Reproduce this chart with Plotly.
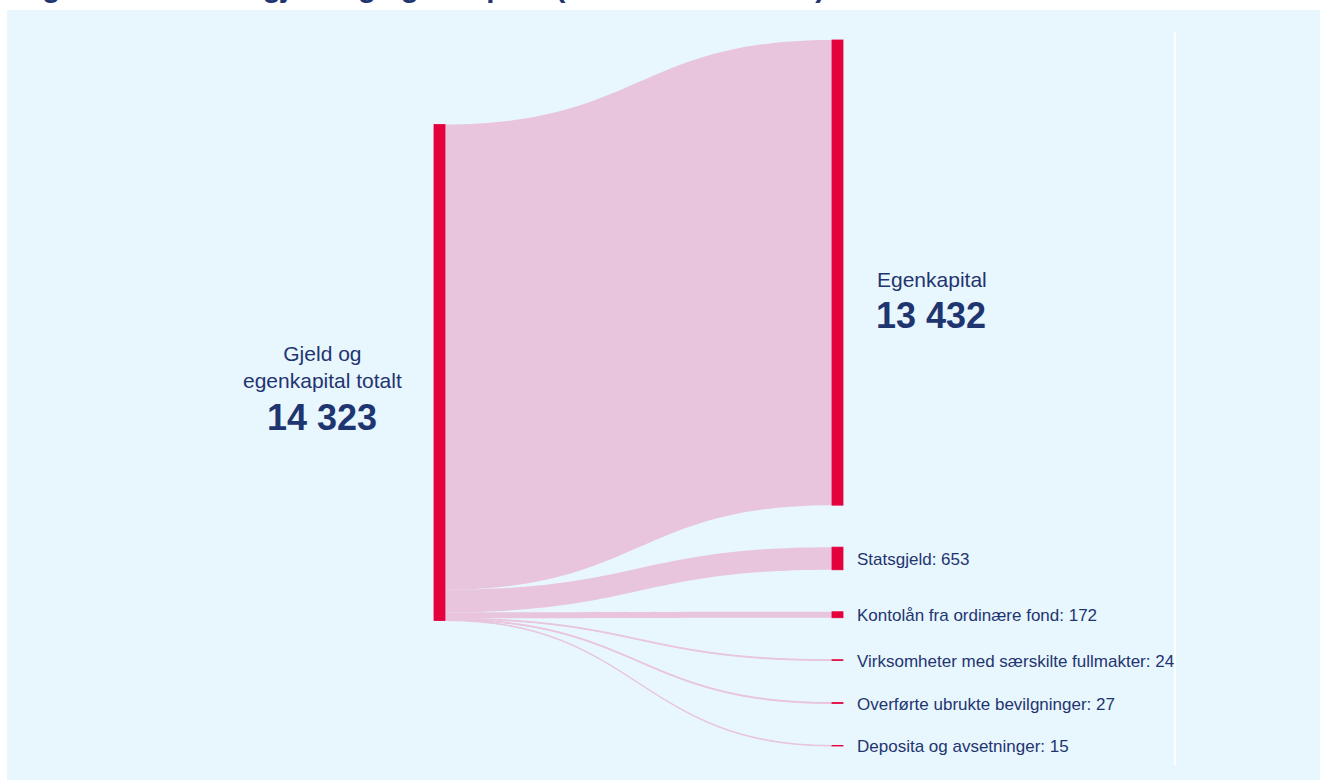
import plotly.graph_objects as go

# ---------------- data ----------------
source_label = "Gjeld og egenkapital totalt"
source_value = 14323
target_labels = [
    "Egenkapital",
    "Statsgjeld",
    "Kontolån fra ordinære fond",
    "Virksomheter med særskilte fullmakter",
    "Overførte ubrukte bevilgninger",
    "Deposita og avsetninger",
]
target_values = [13432, 653, 172, 24, 27, 15]
title_text = "Figur 1.1 Statens gjeld og egenkapital (i milliarder kroner)"

# ---------------- style / geometry ----------------
W, H = 1320, 780
FONT = "Liberation Sans, Arial, sans-serif"
NAVY = "#1f3570"
NODE_COLOR = "#e3003d"
LINK_COLOR = "#e8c5dc"
BG = "#e8f6fe"

SK_LEFT, SK_RIGHT, SK_TOP, SK_BOTTOM = 434, 843, 40, 746
PAD, THICK = 42, 11
sk_w = SK_RIGHT - SK_LEFT
sk_h = SK_BOTTOM - SK_TOP
SRC_CENTER_FRAC = 0.471  # vertical placement of the source node


def fmt(v):
    return f"{v:,}".replace(",", " ")


def px(x):
    return x / W


def py(y):
    return 1 - y / H


# node positions derived from the values (same scale plotly uses)
ky = (sk_h - (len(target_values) - 1) * PAD) / sum(target_values)
tgt_centers = []
cum = 0
for i, v in enumerate(target_values):
    y0 = cum * ky + i * PAD
    tgt_centers.append(y0 + v * ky / 2)
    cum += v

node_x = [(THICK / 2) / sk_w] + [1 - (THICK / 2) / sk_w] * len(target_values)
node_y = [SRC_CENTER_FRAC] + [c / sk_h for c in tgt_centers]

all_labels = [source_label] + target_labels
all_values = [source_value] + target_values

fig = go.Figure(
    go.Sankey(
        arrangement="fixed",
        domain=dict(x=[px(SK_LEFT), px(SK_RIGHT)], y=[py(SK_BOTTOM), py(SK_TOP)]),
        node=dict(
            label=[""] * len(all_labels),
            customdata=[f"{l}: {fmt(v)}" for l, v in zip(all_labels, all_values)],
            hovertemplate="%{customdata}<extra></extra>",
            x=node_x,
            y=node_y,
            pad=PAD,
            thickness=THICK,
            color=NODE_COLOR,
            line=dict(width=0.8, color=NODE_COLOR),
        ),
        link=dict(
            source=[0] * len(target_values),
            target=list(range(1, len(target_values) + 1)),
            value=target_values,
            color=LINK_COLOR,
            hovertemplate="%{target.customdata}<extra></extra>",
        ),
    )
)

annotations = []
# title (mostly cropped at the top edge, as in the reference)
annotations.append(dict(
    text=f"<b>{title_text}</b>", x=px(14), y=py(-14), xref="paper", yref="paper",
    xanchor="left", yanchor="middle", showarrow=False,
    font=dict(family=FONT, size=29.6, color=NAVY),
))
# source label
src_center_px = SK_TOP + SRC_CENTER_FRAC * sk_h
annotations.append(dict(
    text="Gjeld og<br>egenkapital totalt", x=px(322), y=py(src_center_px - 6),
    xref="paper", yref="paper", xanchor="center", yanchor="middle", showarrow=False,
    font=dict(family=FONT, size=21, color=NAVY),
))
annotations.append(dict(
    text=f"<b>{fmt(source_value)}</b>", x=px(322), y=py(src_center_px + 45),
    xref="paper", yref="paper", xanchor="center", yanchor="middle", showarrow=False,
    font=dict(family=FONT, size=36, color=NAVY),
))
# main target label
big_c = SK_TOP + tgt_centers[0]
annotations.append(dict(
    text=target_labels[0], x=px(932), y=py(big_c + 7),
    xref="paper", yref="paper", xanchor="center", yanchor="middle", showarrow=False,
    font=dict(family=FONT, size=21, color=NAVY),
))
annotations.append(dict(
    text=f"<b>{fmt(target_values[0])}</b>", x=px(931), y=py(big_c + 43),
    xref="paper", yref="paper", xanchor="center", yanchor="middle", showarrow=False,
    font=dict(family=FONT, size=36, color=NAVY),
))
# small target labels
for lab, v, c in zip(target_labels[1:], target_values[1:], tgt_centers[1:]):
    annotations.append(dict(
        text=f"{lab}: {fmt(v)}", x=px(855), y=py(SK_TOP + c + 1),
        xref="paper", yref="paper", xanchor="left", yanchor="middle", showarrow=False,
        font=dict(family=FONT, size=17, color=NAVY),
    ))

shapes = [
    dict(type="rect", xref="paper", yref="paper", x0=px(7), x1=1, y0=0, y1=py(10),
         fillcolor=BG, line=dict(width=0), layer="below"),
    dict(type="line", xref="paper", yref="paper", x0=px(1175), x1=px(1175),
         y0=py(765), y1=py(32), line=dict(color="white", width=2), layer="below"),
]

fig.update_layout(
    width=W, height=H,
    margin=dict(l=0, r=0, t=0, b=0),
    paper_bgcolor="white",
    font=dict(family=FONT, color=NAVY),
    annotations=annotations,
    shapes=shapes,
    showlegend=False,
)

fig.write_html("out.html")
